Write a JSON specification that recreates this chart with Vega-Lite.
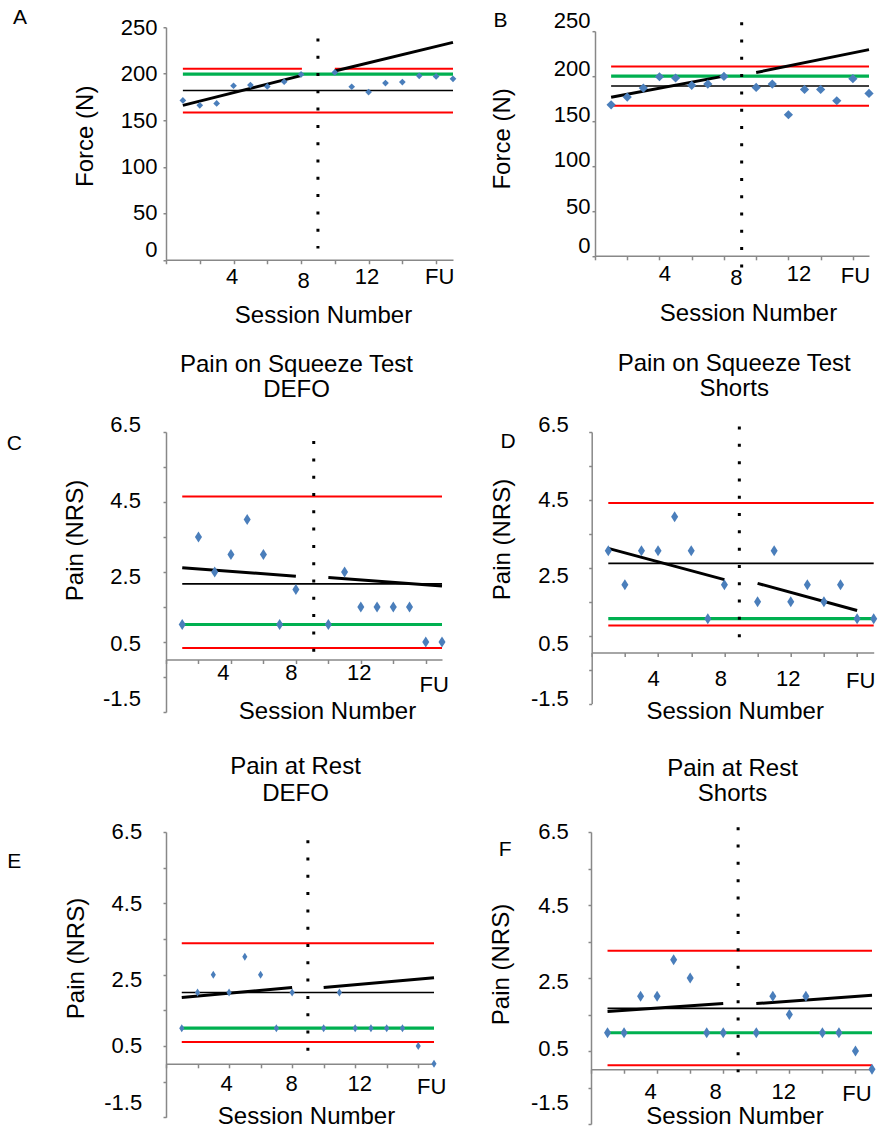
{
"$schema": "https://vega.github.io/schema/vega-lite/v6.json",
"padding": {"left": 6, "top": 6, "right": 0, "bottom": 0},
"background": "white",
"config": {
  "view": {"stroke": null},
  "font": "Liberation Sans",
  "axis": {"grid": false, "labelFont": "Liberation Sans", "titleFont": "Liberation Sans", "labelFontSize": 22, "titleFontSize": 24, "titleFontWeight": "normal", "labelColor": "#000000", "titleColor": "#000000", "domainColor": "#888888", "tickColor": "#888888", "domainWidth": 1.5, "tickWidth": 1.5}
},
"datasets": {
  "points": [
    {"p":"A","s":1,"v":171.3},{"p":"A","s":2,"v":166},{"p":"A","s":3,"v":168.1},{"p":"A","s":4,"v":187.1},{"p":"A","s":5,"v":187.8},{"p":"A","s":6,"v":186.4},{"p":"A","s":7,"v":191.4},{"p":"A","s":8,"v":199.3},{"p":"A","s":10,"v":201.4},{"p":"A","s":11,"v":186},{"p":"A","s":12,"v":180.3},{"p":"A","s":13,"v":190},{"p":"A","s":14,"v":191},{"p":"A","s":15,"v":197.8},{"p":"A","s":16,"v":197.1},{"p":"A","s":17,"v":194.6},
    {"p":"B","s":1,"v":168},{"p":"B","s":2,"v":176.7},{"p":"B","s":3,"v":186.7},{"p":"B","s":4,"v":199.3},{"p":"B","s":5,"v":197.9},{"p":"B","s":6,"v":189.7},{"p":"B","s":7,"v":191.2},{"p":"B","s":8,"v":199.7},{"p":"B","s":10,"v":187.4},{"p":"B","s":11,"v":191.2},{"p":"B","s":12,"v":157},{"p":"B","s":13,"v":185.2},{"p":"B","s":14,"v":185.2},{"p":"B","s":15,"v":172.6},{"p":"B","s":16,"v":197.1},{"p":"B","s":17,"v":180.7},
    {"p":"C","s":1,"v":1},{"p":"C","s":2,"v":3.5},{"p":"C","s":3,"v":2.5},{"p":"C","s":4,"v":3},{"p":"C","s":5,"v":4},{"p":"C","s":6,"v":3},{"p":"C","s":7,"v":1},{"p":"C","s":8,"v":2},{"p":"C","s":10,"v":1},{"p":"C","s":11,"v":2.5},{"p":"C","s":12,"v":1.5},{"p":"C","s":13,"v":1.5},{"p":"C","s":14,"v":1.5},{"p":"C","s":15,"v":1.5},{"p":"C","s":16,"v":0.5},{"p":"C","s":17,"v":0.5},
    {"p":"D","s":1,"v":3},{"p":"D","s":2,"v":2},{"p":"D","s":3,"v":3},{"p":"D","s":4,"v":3},{"p":"D","s":5,"v":4},{"p":"D","s":6,"v":3},{"p":"D","s":7,"v":1},{"p":"D","s":8,"v":2},{"p":"D","s":10,"v":1.5},{"p":"D","s":11,"v":3},{"p":"D","s":12,"v":1.5},{"p":"D","s":13,"v":2},{"p":"D","s":14,"v":1.5},{"p":"D","s":15,"v":2},{"p":"D","s":16,"v":1},{"p":"D","s":17,"v":1},
    {"p":"E","s":1,"v":1},{"p":"E","s":2,"v":2},{"p":"E","s":3,"v":2.5},{"p":"E","s":4,"v":2},{"p":"E","s":5,"v":3},{"p":"E","s":6,"v":2.5},{"p":"E","s":7,"v":1},{"p":"E","s":8,"v":2},{"p":"E","s":10,"v":1},{"p":"E","s":11,"v":2},{"p":"E","s":12,"v":1},{"p":"E","s":13,"v":1},{"p":"E","s":14,"v":1},{"p":"E","s":15,"v":1},{"p":"E","s":16,"v":0.5},{"p":"E","s":17,"v":0},
    {"p":"F","s":1,"v":1},{"p":"F","s":2,"v":1},{"p":"F","s":3,"v":2},{"p":"F","s":4,"v":2},{"p":"F","s":5,"v":3},{"p":"F","s":6,"v":2.5},{"p":"F","s":7,"v":1},{"p":"F","s":8,"v":1},{"p":"F","s":10,"v":1},{"p":"F","s":11,"v":2},{"p":"F","s":12,"v":1.5},{"p":"F","s":13,"v":2},{"p":"F","s":14,"v":1},{"p":"F","s":15,"v":1},{"p":"F","s":16,"v":0.5},{"p":"F","s":17,"v":0}
  ],
  "lines": [
    {"p":"A","k":"limit","x":1,"x2":8.05,"y":205.4,"y2":205.4},
    {"p":"A","k":"limit","x":10,"x2":17,"y":205.4,"y2":205.4},
    {"p":"A","k":"limit","x":1,"x2":17,"y":158.4,"y2":158.4},
    {"p":"A","k":"goal","x":1,"x2":17,"y":199.6,"y2":199.6},
    {"p":"A","k":"mean","x":1,"x2":17,"y":182,"y2":182},
    {"p":"A","k":"trend","x":1,"x2":8,"y":166,"y2":198},
    {"p":"A","k":"trend","x":10,"x2":17,"y":203,"y2":233.7},
    {"p":"A","k":"phase","x":9,"x2":9,"y":238,"y2":12},
    {"p":"B","k":"limit","x":1,"x2":17,"y":210.8,"y2":210.8},
    {"p":"B","k":"limit","x":1,"x2":17,"y":167,"y2":167},
    {"p":"B","k":"goal","x":1,"x2":17,"y":200.1,"y2":200.1},
    {"p":"B","k":"mean","x":1,"x2":17,"y":189,"y2":189},
    {"p":"B","k":"trend","x":1,"x2":8,"y":176.5,"y2":200},
    {"p":"B","k":"trend","x":10,"x2":17,"y":204,"y2":229.5},
    {"p":"B","k":"phase","x":9.1,"x2":9.1,"y":260,"y2":-27},
    {"p":"C","k":"limit","x":1,"x2":17,"y":4.66,"y2":4.66},
    {"p":"C","k":"limit","x":1,"x2":17,"y":0.33,"y2":0.33},
    {"p":"C","k":"goal","x":1,"x2":17,"y":1.0,"y2":1.0},
    {"p":"C","k":"mean","x":1,"x2":17,"y":2.16,"y2":2.16},
    {"p":"C","k":"trend","x":1,"x2":8,"y":2.62,"y2":2.38},
    {"p":"C","k":"trend","x":10,"x2":17,"y":2.34,"y2":2.1},
    {"p":"C","k":"phase","x":9.1,"x2":9.1,"y":6.24,"y2":-0.16},
    {"p":"D","k":"limit","x":1,"x2":17,"y":4.41,"y2":4.41},
    {"p":"D","k":"limit","x":1,"x2":17,"y":0.8,"y2":0.8},
    {"p":"D","k":"goal","x":1,"x2":17,"y":1.0,"y2":1.0},
    {"p":"D","k":"mean","x":1,"x2":17,"y":2.63,"y2":2.63},
    {"p":"D","k":"trend","x":1,"x2":8,"y":3.07,"y2":2.15},
    {"p":"D","k":"trend","x":10,"x2":16,"y":2.04,"y2":1.24},
    {"p":"D","k":"phase","x":8.9,"x2":8.9,"y":6.66,"y2":0.04},
    {"p":"E","k":"limit","x":1,"x2":17,"y":3.38,"y2":3.38},
    {"p":"E","k":"limit","x":1,"x2":17,"y":0.61,"y2":0.61},
    {"p":"E","k":"goal","x":1,"x2":17,"y":1.0,"y2":1.0},
    {"p":"E","k":"mean","x":1,"x2":17,"y":2.0,"y2":2.0},
    {"p":"E","k":"trend","x":1,"x2":8,"y":1.86,"y2":2.14},
    {"p":"E","k":"trend","x":10,"x2":17,"y":2.14,"y2":2.41},
    {"p":"E","k":"phase","x":9,"x2":9,"y":6.27,"y2":0},
    {"p":"F","k":"limit","x":1,"x2":17,"y":3.25,"y2":3.25},
    {"p":"F","k":"limit","x":1,"x2":17,"y":0.11,"y2":0.11},
    {"p":"F","k":"goal","x":1,"x2":17,"y":1.0,"y2":1.0},
    {"p":"F","k":"mean","x":1,"x2":17,"y":1.67,"y2":1.67},
    {"p":"F","k":"trend","x":1,"x2":8,"y":1.58,"y2":1.8},
    {"p":"F","k":"trend","x":10,"x2":17,"y":1.8,"y2":2.03},
    {"p":"F","k":"phase","x":8.9,"x2":8.9,"y":6.63,"y2":-0.08}
  ]
},
"spacing": 23,
"vconcat": [
 {"hconcat": [
  {"width": 287, "height": 232.5,
   "resolve": {"axis": {"x": "independent", "y": "independent"}},
   "layer": [
    {"data":{"name":"lines"},"transform":[{"filter":"datum.p=='A' && datum.k=='limit'"}],"mark":{"type":"rule","color":"#ff0000","strokeWidth":2},
     "encoding":{"x":{"field":"x","type":"quantitative","scale":{"domain":[0,17],"nice":false,"zero":false},"axis":null},"x2":{"field":"x2"},
      "y":{"field":"y","type":"quantitative","scale":{"domain":[0,250],"nice":false},"axis":{"orient":"right","title":"A","domain":false,"ticks":false,"labels":false,"titleAngle":0,"titleX":-433.5,"titleY":-9.5,"titleAlign":"center","titleBaseline":"middle","titleFontSize":21}},"y2":{"field":"y2"}}},
    {"data":{"name":"lines"},"transform":[{"filter":"datum.p=='A' && datum.k=='goal'"}],"mark":{"type":"rule","color":"#00b050","strokeWidth":3.2},
     "encoding":{"x":{"field":"x","type":"quantitative","scale":{"domain":[0,17],"nice":false,"zero":false},"axis":null},"x2":{"field":"x2"},"y":{"field":"y","type":"quantitative","scale":{"domain":[0,250],"nice":false},"axis":null},"y2":{"field":"y2"}}},
    {"data":{"name":"lines"},"transform":[{"filter":"datum.p=='A' && datum.k=='mean'"}],"mark":{"type":"rule","color":"#000000","strokeWidth":1.7},
     "encoding":{"x":{"field":"x","type":"quantitative","scale":{"domain":[0,17],"nice":false,"zero":false},"axis":null},"x2":{"field":"x2"},"y":{"field":"y","type":"quantitative","scale":{"domain":[0,250],"nice":false},"axis":null},"y2":{"field":"y2"}}},
    {"data":{"name":"lines"},"transform":[{"filter":"datum.p=='A' && datum.k=='trend'"}],"mark":{"type":"rule","color":"#000000","strokeWidth":3},
     "encoding":{"x":{"field":"x","type":"quantitative","scale":{"domain":[0,17],"nice":false,"zero":false},"axis":null},"x2":{"field":"x2"},"y":{"field":"y","type":"quantitative","scale":{"domain":[0,250],"nice":false},"axis":null},"y2":{"field":"y2"}}},
    {"data":{"name":"lines"},"transform":[{"filter":"datum.p=='A' && datum.k=='phase'"}],"mark":{"type":"rule","color":"#000000","strokeWidth":3,"strokeDash":[3,14.3]},
     "encoding":{"x":{"field":"x","type":"quantitative","scale":{"domain":[0,17],"nice":false,"zero":false},"axis":null},"x2":{"field":"x2"},"y":{"field":"y","type":"quantitative","scale":{"domain":[0,250],"nice":false},"axis":null},"y2":{"field":"y2"}}},
    {"data":{"name":"points"},"transform":[{"filter":"datum.p=='A'"}],"mark":{"type":"point","shape":"diamond","filled":true,"color":"#4a7ebb","opacity":1,"size":45,"strokeWidth":0},
     "encoding":{
      "x":{"field":"s","type":"quantitative","scale":{"domain":[0,17],"nice":false,"zero":false},
        "axis":{"orient":"bottom","values":[0,2,4,6,8,10,12,14,16],"labelExpr":"datum.value==4?'4':datum.value==8?'8':datum.value==12?'12':datum.value==16?'FU':''","tickSize":4,"labelBaseline":"alphabetic","labelOverlap":false,"labelFlush":false,
          "labelPadding":{"condition":[{"test":"datum.value==8","value":24}],"value":20},
          "labelOffset":{"condition":[{"test":"datum.value==4","value":-2},{"test":"datum.value==8","value":2},{"test":"datum.value==12","value":-2},{"test":"datum.value==16","value":3}],"value":0},
          "title":"Session Number","titleX":157,"titleY":63,"titleAlign":"center","titleBaseline":"alphabetic"}},
      "y":{"field":"v","type":"quantitative","scale":{"domain":[0,250],"nice":false},
        "axis":{"orient":"left","values":[0,50,100,150,200,250],"tickSize":3,"labelPadding":6,
          "labelOffset":{"condition":[{"test":"datum.value==0","value":-10},{"test":"datum.value==50","value":-1}],"value":0},
          "title":"Force (N)","titleAngle":270,"titleX":-81,"titleY":108.5,"titleAlign":"center","titleBaseline":"middle"}}}}
   ]},
  {"width": 274, "height": 224.6,
   "resolve": {"axis": {"x": "independent", "y": "independent"}},
   "layer": [
    {"data":{"name":"lines"},"transform":[{"filter":"datum.p=='B' && datum.k=='limit'"}],"mark":{"type":"rule","color":"#ff0000","strokeWidth":2},
     "encoding":{"x":{"field":"x","type":"quantitative","scale":{"domain":[0,17],"nice":false,"zero":false},"axis":null},"x2":{"field":"x2"},
      "y":{"field":"y","type":"quantitative","scale":{"domain":[0,250],"nice":false},"axis":{"orient":"right","title":"B","domain":false,"ticks":false,"labels":false,"titleAngle":0,"titleX":-369,"titleY":-10.5,"titleAlign":"center","titleBaseline":"middle","titleFontSize":21}},"y2":{"field":"y2"}}},
    {"data":{"name":"lines"},"transform":[{"filter":"datum.p=='B' && datum.k=='goal'"}],"mark":{"type":"rule","color":"#00b050","strokeWidth":3.2},
     "encoding":{"x":{"field":"x","type":"quantitative","scale":{"domain":[0,17],"nice":false,"zero":false},"axis":null},"x2":{"field":"x2"},"y":{"field":"y","type":"quantitative","scale":{"domain":[0,250],"nice":false},"axis":null},"y2":{"field":"y2"}}},
    {"data":{"name":"lines"},"transform":[{"filter":"datum.p=='B' && datum.k=='mean'"}],"mark":{"type":"rule","color":"#000000","strokeWidth":1.7},
     "encoding":{"x":{"field":"x","type":"quantitative","scale":{"domain":[0,17],"nice":false,"zero":false},"axis":null},"x2":{"field":"x2"},"y":{"field":"y","type":"quantitative","scale":{"domain":[0,250],"nice":false},"axis":null},"y2":{"field":"y2"}}},
    {"data":{"name":"lines"},"transform":[{"filter":"datum.p=='B' && datum.k=='trend'"}],"mark":{"type":"rule","color":"#000000","strokeWidth":3},
     "encoding":{"x":{"field":"x","type":"quantitative","scale":{"domain":[0,17],"nice":false,"zero":false},"axis":null},"x2":{"field":"x2"},"y":{"field":"y","type":"quantitative","scale":{"domain":[0,250],"nice":false},"axis":null},"y2":{"field":"y2"}}},
    {"data":{"name":"lines"},"transform":[{"filter":"datum.p=='B' && datum.k=='phase'"}],"mark":{"type":"rule","color":"#000000","strokeWidth":3,"strokeDash":[3,14.3]},
     "encoding":{"x":{"field":"x","type":"quantitative","scale":{"domain":[0,17],"nice":false,"zero":false},"axis":null},"x2":{"field":"x2"},"y":{"field":"y","type":"quantitative","scale":{"domain":[0,250],"nice":false},"axis":null},"y2":{"field":"y2"}}},
    {"data":{"name":"points"},"transform":[{"filter":"datum.p=='B'"}],"mark":{"type":"point","shape":"diamond","filled":true,"color":"#4a7ebb","opacity":1,"size":85,"strokeWidth":0},
     "encoding":{
      "x":{"field":"s","type":"quantitative","scale":{"domain":[0,17],"nice":false,"zero":false},
        "axis":{"orient":"bottom","values":[0,2,4,6,8,10,12,14,16],"labelExpr":"datum.value==4?'4':datum.value==8?'8':datum.value==12?'12':datum.value==16?'FU':''","tickSize":4,"labelBaseline":"alphabetic","labelOverlap":false,"labelFlush":false,
          "labelPadding":{"condition":[{"test":"datum.value==8","value":24.3},{"test":"datum.value==16","value":22.7}],"value":21},
          "labelOffset":{"condition":[{"test":"datum.value==4","value":5},{"test":"datum.value==8","value":12},{"test":"datum.value==12","value":10},{"test":"datum.value==16","value":2}],"value":0},
          "title":"Session Number","titleX":153,"titleY":65,"titleAlign":"center","titleBaseline":"alphabetic"}},
      "y":{"field":"v","type":"quantitative","scale":{"domain":[0,250],"nice":false},
        "axis":{"orient":"left","values":[0,50,100,150,200,250],"tickSize":3,"labelPadding":2,
          "labelOffset":{"condition":[{"test":"datum.value==0","value":-10},{"test":"datum.value==50","value":-4.5},{"test":"datum.value==100","value":-6.4},{"test":"datum.value==150","value":-6.5},{"test":"datum.value==200","value":-8},{"test":"datum.value==250","value":-11}],"value":0},
          "title":"Force (N)","titleAngle":270,"titleX":-92.7,"titleY":107.2,"titleAlign":"center","titleBaseline":"middle"}}}}
   ]}
 ], "spacing": 142, "bounds": "flush", "center": true},
 {"spacing": 31,
  "vconcat": [
  {"hconcat": [
   {"width": 276, "height": 280,
    "resolve": {"axis": {"x": "independent", "y": "independent"}},
    "layer": [
     {"data":{"name":"lines"},"transform":[{"filter":"datum.p=='C' && datum.k=='limit'"}],"mark":{"type":"rule","color":"#ff0000","strokeWidth":2},
      "encoding":{"x":{"field":"x","type":"quantitative","scale":{"domain":[0,17],"nice":false,"zero":false},
         "axis":{"orient":"top","title":["Pain on Squeeze Test","DEFO"],"domain":false,"ticks":false,"labels":false,"titleX":130,"titleY":-60.7,"titleAlign":"center","titleBaseline":"alphabetic","titleLineHeight":25,"titleAngle":0}},"x2":{"field":"x2"},
       "y":{"field":"y","type":"quantitative","scale":{"domain":[-1.5,6.5],"nice":false,"zero":false},"axis":{"orient":"right","title":"C","domain":false,"ticks":false,"labels":false,"titleAngle":0,"titleX":-428.2,"titleY":11.3,"titleAlign":"center","titleBaseline":"middle","titleFontSize":21}},"y2":{"field":"y2"}}},
     {"data":{"name":"lines"},"transform":[{"filter":"datum.p=='C' && datum.k=='goal'"}],"mark":{"type":"rule","color":"#00b050","strokeWidth":3.2},
      "encoding":{"x":{"field":"x","type":"quantitative","scale":{"domain":[0,17],"nice":false,"zero":false},"axis":null},"x2":{"field":"x2"},"y":{"field":"y","type":"quantitative","scale":{"domain":[-1.5,6.5],"nice":false,"zero":false},"axis":null},"y2":{"field":"y2"}}},
     {"data":{"name":"lines"},"transform":[{"filter":"datum.p=='C' && datum.k=='mean'"}],"mark":{"type":"rule","color":"#000000","strokeWidth":1.7},
      "encoding":{"x":{"field":"x","type":"quantitative","scale":{"domain":[0,17],"nice":false,"zero":false},"axis":null},"x2":{"field":"x2"},"y":{"field":"y","type":"quantitative","scale":{"domain":[-1.5,6.5],"nice":false,"zero":false},"axis":null},"y2":{"field":"y2"}}},
     {"data":{"name":"lines"},"transform":[{"filter":"datum.p=='C' && datum.k=='trend'"}],"mark":{"type":"rule","color":"#000000","strokeWidth":3},
      "encoding":{"x":{"field":"x","type":"quantitative","scale":{"domain":[0,17],"nice":false,"zero":false},"axis":null},"x2":{"field":"x2"},"y":{"field":"y","type":"quantitative","scale":{"domain":[-1.5,6.5],"nice":false,"zero":false},"axis":null},"y2":{"field":"y2"}}},
     {"data":{"name":"lines"},"transform":[{"filter":"datum.p=='C' && datum.k=='phase'"}],"mark":{"type":"rule","color":"#000000","strokeWidth":3,"strokeDash":[3,14.3]},
      "encoding":{"x":{"field":"x","type":"quantitative","scale":{"domain":[0,17],"nice":false,"zero":false},"axis":null},"x2":{"field":"x2"},"y":{"field":"y","type":"quantitative","scale":{"domain":[-1.5,6.5],"nice":false,"zero":false},"axis":null},"y2":{"field":"y2"}}},
     {"data":{"name":"points"},"transform":[{"filter":"datum.p=='C'"}],"mark":{"type":"point","shape":"M0,-1L0.64,0L0,1L-0.64,0Z","filled":true,"color":"#4a7ebb","opacity":1,"size":121,"strokeWidth":0},
      "encoding":{
       "x":{"field":"s","type":"quantitative","scale":{"domain":[0,17],"nice":false,"zero":false},
         "axis":{"orient":"bottom","offset":-52.5,"values":[0,2,4,6,8,10,12,14,16],"labelExpr":"datum.value==4?'4':datum.value==8?'8':datum.value==12?'12':datum.value==16?'FU':''","tickSize":4,"labelBaseline":"alphabetic","labelOverlap":false,"labelFlush":false,
           "labelPadding":{"condition":[{"test":"datum.value==4","value":16},{"test":"datum.value==16","value":27.8}],"value":15.5},
           "labelOffset":{"condition":[{"test":"datum.value==4","value":-8},{"test":"datum.value==8","value":-5},{"test":"datum.value==12","value":-2},{"test":"datum.value==16","value":8}],"value":0},
           "title":"Session Number","titleX":161,"titleY":58.5,"titleAlign":"center","titleBaseline":"alphabetic"}},
       "y":{"field":"v","type":"quantitative","scale":{"domain":[-1.5,6.5],"nice":false,"zero":false},
         "axis":{"orient":"left","values":[-1.5,-0.5,0.5,1.5,2.5,3.5,4.5,5.5,6.5],"labelExpr":"(datum.value+1.5)%2==0?''+datum.value:''","tickSize":3,"labelPadding":22.6,
           "labelOffset":{"condition":[{"test":"datum.value==6.5","value":-8},{"test":"datum.value==4.5","value":-2},{"test":"datum.value==2.5","value":4},{"test":"datum.value==0.5","value":1.5},{"test":"datum.value==-1.5","value":-14}],"value":0},
           "title":"Pain (NRS)","titleAngle":270,"titleX":-91,"titleY":108,"titleAlign":"center","titleBaseline":"middle"}}}}
    ]},
   {"width": 282, "height": 271.5,
    "resolve": {"axis": {"x": "independent", "y": "independent"}},
    "layer": [
     {"data":{"name":"lines"},"transform":[{"filter":"datum.p=='D' && datum.k=='limit'"}],"mark":{"type":"rule","color":"#ff0000","strokeWidth":2},
      "encoding":{"x":{"field":"x","type":"quantitative","scale":{"domain":[0,17],"nice":false,"zero":false},
         "axis":{"orient":"top","title":["Pain on Squeeze Test","Shorts"],"domain":false,"ticks":false,"labels":false,"titleX":142,"titleY":-61.7,"titleAlign":"center","titleBaseline":"alphabetic","titleLineHeight":25,"titleAngle":0}},"x2":{"field":"x2"},
       "y":{"field":"y","type":"quantitative","scale":{"domain":[-1.5,6.5],"nice":false,"zero":false},"axis":{"orient":"right","title":"D","domain":false,"ticks":false,"labels":false,"titleAngle":0,"titleX":-366.2,"titleY":9.3,"titleAlign":"center","titleBaseline":"middle","titleFontSize":21}},"y2":{"field":"y2"}}},
     {"data":{"name":"lines"},"transform":[{"filter":"datum.p=='D' && datum.k=='goal'"}],"mark":{"type":"rule","color":"#00b050","strokeWidth":3.2},
      "encoding":{"x":{"field":"x","type":"quantitative","scale":{"domain":[0,17],"nice":false,"zero":false},"axis":null},"x2":{"field":"x2"},"y":{"field":"y","type":"quantitative","scale":{"domain":[-1.5,6.5],"nice":false,"zero":false},"axis":null},"y2":{"field":"y2"}}},
     {"data":{"name":"lines"},"transform":[{"filter":"datum.p=='D' && datum.k=='mean'"}],"mark":{"type":"rule","color":"#000000","strokeWidth":1.7},
      "encoding":{"x":{"field":"x","type":"quantitative","scale":{"domain":[0,17],"nice":false,"zero":false},"axis":null},"x2":{"field":"x2"},"y":{"field":"y","type":"quantitative","scale":{"domain":[-1.5,6.5],"nice":false,"zero":false},"axis":null},"y2":{"field":"y2"}}},
     {"data":{"name":"lines"},"transform":[{"filter":"datum.p=='D' && datum.k=='trend'"}],"mark":{"type":"rule","color":"#000000","strokeWidth":3},
      "encoding":{"x":{"field":"x","type":"quantitative","scale":{"domain":[0,17],"nice":false,"zero":false},"axis":null},"x2":{"field":"x2"},"y":{"field":"y","type":"quantitative","scale":{"domain":[-1.5,6.5],"nice":false,"zero":false},"axis":null},"y2":{"field":"y2"}}},
     {"data":{"name":"lines"},"transform":[{"filter":"datum.p=='D' && datum.k=='phase'"}],"mark":{"type":"rule","color":"#000000","strokeWidth":3,"strokeDash":[3,14.3]},
      "encoding":{"x":{"field":"x","type":"quantitative","scale":{"domain":[0,17],"nice":false,"zero":false},"axis":null},"x2":{"field":"x2"},"y":{"field":"y","type":"quantitative","scale":{"domain":[-1.5,6.5],"nice":false,"zero":false},"axis":null},"y2":{"field":"y2"}}},
     {"data":{"name":"points"},"transform":[{"filter":"datum.p=='D'"}],"mark":{"type":"point","shape":"M0,-1L0.64,0L0,1L-0.64,0Z","filled":true,"color":"#4a7ebb","opacity":1,"size":121,"strokeWidth":0},
      "encoding":{
       "x":{"field":"s","type":"quantitative","scale":{"domain":[0,17],"nice":false,"zero":false},
         "axis":{"orient":"bottom","offset":-50.9,"values":[0,2,4,6,8,10,12,14,16],"labelExpr":"datum.value==4?'4':datum.value==8?'8':datum.value==12?'12':datum.value==16?'FU':''","tickSize":4,"labelBaseline":"alphabetic","labelOverlap":false,"labelFlush":false,
           "labelPadding":{"condition":[{"test":"datum.value==16","value":30.7}],"value":29},
           "labelOffset":{"condition":[{"test":"datum.value==4","value":-5},{"test":"datum.value==8","value":-4},{"test":"datum.value==12","value":-3},{"test":"datum.value==16","value":3}],"value":0},
           "title":"Session Number","titleX":143,"titleY":65.4,"titleAlign":"center","titleBaseline":"alphabetic"}},
       "y":{"field":"v","type":"quantitative","scale":{"domain":[-1.5,6.5],"nice":false,"zero":false},
         "axis":{"orient":"left","values":[-1.5,-0.5,0.5,1.5,2.5,3.5,4.5,5.5,6.5],"labelExpr":"(datum.value+1.5)%2==0?''+datum.value:''","tickSize":3,"labelPadding":20.4,
           "labelOffset":{"condition":[{"test":"datum.value==6.5","value":-8},{"test":"datum.value==2.5","value":8},{"test":"datum.value==0.5","value":8},{"test":"datum.value==-1.5","value":-5}],"value":0},
           "title":"Pain (NRS)","titleAngle":270,"titleX":-89,"titleY":107,"titleAlign":"center","titleBaseline":"middle"}}}}
    ]}
  ], "spacing": 149.7, "bounds": "flush"},
  {"hconcat": [
   {"width": 268, "height": 285.3,
    "resolve": {"axis": {"x": "independent", "y": "independent"}},
    "layer": [
     {"data":{"name":"lines"},"transform":[{"filter":"datum.p=='E' && datum.k=='limit'"}],"mark":{"type":"rule","color":"#ff0000","strokeWidth":2},
      "encoding":{"x":{"field":"x","type":"quantitative","scale":{"domain":[0,17],"nice":false,"zero":false},
         "axis":{"orient":"top","title":["Pain at Rest","DEFO"],"domain":false,"ticks":false,"labels":false,"titleX":129,"titleY":-58.3,"titleAlign":"center","titleBaseline":"alphabetic","titleLineHeight":27,"titleAngle":0}},"x2":{"field":"x2"},
       "y":{"field":"y","type":"quantitative","scale":{"domain":[-1.5,6.5],"nice":false,"zero":false},"axis":{"orient":"right","title":"E","domain":false,"ticks":false,"labels":false,"titleAngle":0,"titleX":-420.3,"titleY":29,"titleAlign":"center","titleBaseline":"middle","titleFontSize":21}},"y2":{"field":"y2"}}},
     {"data":{"name":"lines"},"transform":[{"filter":"datum.p=='E' && datum.k=='goal'"}],"mark":{"type":"rule","color":"#00b050","strokeWidth":3.2},
      "encoding":{"x":{"field":"x","type":"quantitative","scale":{"domain":[0,17],"nice":false,"zero":false},"axis":null},"x2":{"field":"x2"},"y":{"field":"y","type":"quantitative","scale":{"domain":[-1.5,6.5],"nice":false,"zero":false},"axis":null},"y2":{"field":"y2"}}},
     {"data":{"name":"lines"},"transform":[{"filter":"datum.p=='E' && datum.k=='mean'"}],"mark":{"type":"rule","color":"#000000","strokeWidth":1.7},
      "encoding":{"x":{"field":"x","type":"quantitative","scale":{"domain":[0,17],"nice":false,"zero":false},"axis":null},"x2":{"field":"x2"},"y":{"field":"y","type":"quantitative","scale":{"domain":[-1.5,6.5],"nice":false,"zero":false},"axis":null},"y2":{"field":"y2"}}},
     {"data":{"name":"lines"},"transform":[{"filter":"datum.p=='E' && datum.k=='trend'"}],"mark":{"type":"rule","color":"#000000","strokeWidth":3},
      "encoding":{"x":{"field":"x","type":"quantitative","scale":{"domain":[0,17],"nice":false,"zero":false},"axis":null},"x2":{"field":"x2"},"y":{"field":"y","type":"quantitative","scale":{"domain":[-1.5,6.5],"nice":false,"zero":false},"axis":null},"y2":{"field":"y2"}}},
     {"data":{"name":"lines"},"transform":[{"filter":"datum.p=='E' && datum.k=='phase'"}],"mark":{"type":"rule","color":"#000000","strokeWidth":3,"strokeDash":[3,14.3]},
      "encoding":{"x":{"field":"x","type":"quantitative","scale":{"domain":[0,17],"nice":false,"zero":false},"axis":null},"x2":{"field":"x2"},"y":{"field":"y","type":"quantitative","scale":{"domain":[-1.5,6.5],"nice":false,"zero":false},"axis":null},"y2":{"field":"y2"}}},
     {"data":{"name":"points"},"transform":[{"filter":"datum.p=='E'"}],"mark":{"type":"point","shape":"M0,-1L0.64,0L0,1L-0.64,0Z","filled":true,"color":"#4a7ebb","opacity":1,"size":64,"strokeWidth":0},
      "encoding":{
       "x":{"field":"s","type":"quantitative","scale":{"domain":[0,17],"nice":false,"zero":false},
         "axis":{"orient":"bottom","offset":-53.5,"values":[0,2,4,6,8,10,12,14,16],"labelExpr":"datum.value==4?'4':datum.value==8?'8':datum.value==12?'12':datum.value==16?'FU':''","tickSize":4,"labelBaseline":"alphabetic","labelOverlap":false,"labelFlush":false,
           "labelPadding":{"condition":[{"test":"datum.value==16","value":25.7}],"value":22.3},
           "labelOffset":{"condition":[{"test":"datum.value==4","value":-3},{"test":"datum.value==8","value":-1},{"test":"datum.value==12","value":4},{"test":"datum.value==16","value":13}],"value":0},
           "title":"Session Number","titleX":140,"titleY":59.2,"titleAlign":"center","titleBaseline":"alphabetic"}},
       "y":{"field":"v","type":"quantitative","scale":{"domain":[-1.5,6.5],"nice":false,"zero":false},
         "axis":{"orient":"left","values":[-1.5,-0.5,0.5,1.5,2.5,3.5,4.5,5.5,6.5],"labelExpr":"(datum.value+1.5)%2==0?''+datum.value:''","tickSize":3,"labelPadding":21.3,
           "labelOffset":{"condition":[{"test":"datum.value==6.5","value":-1},{"test":"datum.value==2.5","value":5},{"test":"datum.value==-1.5","value":-15}],"value":0},
           "title":"Pain (NRS)","titleAngle":270,"titleX":-89.3,"titleY":126,"titleAlign":"center","titleBaseline":"middle"}}}}
    ]},
   {"width": 281, "height": 292,
    "resolve": {"axis": {"x": "independent", "y": "independent"}},
    "layer": [
     {"data":{"name":"lines"},"transform":[{"filter":"datum.p=='F' && datum.k=='limit'"}],"mark":{"type":"rule","color":"#ff0000","strokeWidth":2},
      "encoding":{"x":{"field":"x","type":"quantitative","scale":{"domain":[0,17],"nice":false,"zero":false},
         "axis":{"orient":"top","title":["Pain at Rest","Shorts"],"domain":false,"ticks":false,"labels":false,"titleX":141,"titleY":-56.7,"titleAlign":"center","titleBaseline":"alphabetic","titleLineHeight":25,"titleAngle":0}},"x2":{"field":"x2"},
       "y":{"field":"y","type":"quantitative","scale":{"domain":[-1.5,6.5],"nice":false,"zero":false},"axis":{"orient":"right","title":"F","domain":false,"ticks":false,"labels":false,"titleAngle":0,"titleX":-367.3,"titleY":17.7,"titleAlign":"center","titleBaseline":"middle","titleFontSize":21}},"y2":{"field":"y2"}}},
     {"data":{"name":"lines"},"transform":[{"filter":"datum.p=='F' && datum.k=='goal'"}],"mark":{"type":"rule","color":"#00b050","strokeWidth":3.2},
      "encoding":{"x":{"field":"x","type":"quantitative","scale":{"domain":[0,17],"nice":false,"zero":false},"axis":null},"x2":{"field":"x2"},"y":{"field":"y","type":"quantitative","scale":{"domain":[-1.5,6.5],"nice":false,"zero":false},"axis":null},"y2":{"field":"y2"}}},
     {"data":{"name":"lines"},"transform":[{"filter":"datum.p=='F' && datum.k=='mean'"}],"mark":{"type":"rule","color":"#000000","strokeWidth":1.7},
      "encoding":{"x":{"field":"x","type":"quantitative","scale":{"domain":[0,17],"nice":false,"zero":false},"axis":null},"x2":{"field":"x2"},"y":{"field":"y","type":"quantitative","scale":{"domain":[-1.5,6.5],"nice":false,"zero":false},"axis":null},"y2":{"field":"y2"}}},
     {"data":{"name":"lines"},"transform":[{"filter":"datum.p=='F' && datum.k=='trend'"}],"mark":{"type":"rule","color":"#000000","strokeWidth":3},
      "encoding":{"x":{"field":"x","type":"quantitative","scale":{"domain":[0,17],"nice":false,"zero":false},"axis":null},"x2":{"field":"x2"},"y":{"field":"y","type":"quantitative","scale":{"domain":[-1.5,6.5],"nice":false,"zero":false},"axis":null},"y2":{"field":"y2"}}},
     {"data":{"name":"lines"},"transform":[{"filter":"datum.p=='F' && datum.k=='phase'"}],"mark":{"type":"rule","color":"#000000","strokeWidth":3,"strokeDash":[3,14.3]},
      "encoding":{"x":{"field":"x","type":"quantitative","scale":{"domain":[0,17],"nice":false,"zero":false},"axis":null},"x2":{"field":"x2"},"y":{"field":"y","type":"quantitative","scale":{"domain":[-1.5,6.5],"nice":false,"zero":false},"axis":null},"y2":{"field":"y2"}}},
     {"data":{"name":"points"},"transform":[{"filter":"datum.p=='F'"}],"mark":{"type":"point","shape":"M0,-1L0.64,0L0,1L-0.64,0Z","filled":true,"color":"#4a7ebb","opacity":1,"size":121,"strokeWidth":0},
      "encoding":{
       "x":{"field":"s","type":"quantitative","scale":{"domain":[0,17],"nice":false,"zero":false},
         "axis":{"orient":"bottom","offset":-54.75,"values":[0,2,4,6,8,10,12,14,16],"labelExpr":"datum.value==4?'4':datum.value==8?'8':datum.value==12?'12':datum.value==16?'FU':''","tickSize":4,"labelBaseline":"alphabetic","labelOverlap":false,"labelFlush":false,
           "labelPadding":{"condition":[{"test":"datum.value==16","value":27}],"value":25.3},
           "labelOffset":{"condition":[{"test":"datum.value==4","value":-7},{"test":"datum.value==8","value":-8},{"test":"datum.value==12","value":-6},{"test":"datum.value==16","value":1}],"value":0},
           "title":"Session Number","titleX":143.5,"titleY":54.4,"titleAlign":"center","titleBaseline":"alphabetic"}},
       "y":{"field":"v","type":"quantitative","scale":{"domain":[-1.5,6.5],"nice":false,"zero":false},
         "axis":{"orient":"left","values":[-1.5,-0.5,0.5,1.5,2.5,3.5,4.5,5.5,6.5],"labelExpr":"(datum.value+1.5)%2==0?''+datum.value:''","tickSize":3,"labelPadding":19.7,
           "labelOffset":{"condition":[{"test":"datum.value==6.5","value":-1},{"test":"datum.value==2.5","value":3},{"test":"datum.value==0.5","value":-3},{"test":"datum.value==-1.5","value":-22}],"value":0},
           "title":"Pain (NRS)","titleAngle":270,"titleX":-89.5,"titleY":132,"titleAlign":"center","titleBaseline":"middle"}}}}
    ]}
  ], "spacing": 157, "bounds": "flush"}
 ]}
]
}
